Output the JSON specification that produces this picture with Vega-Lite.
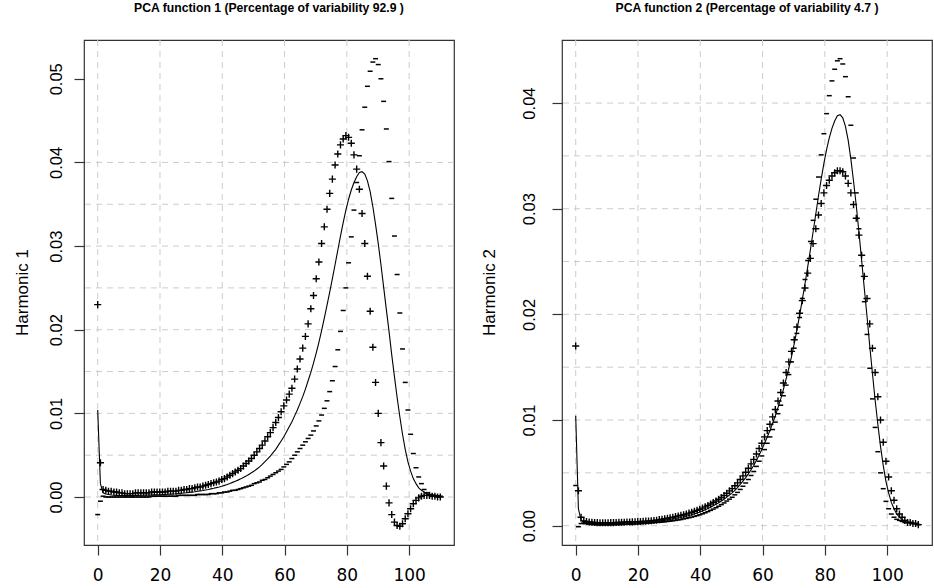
{
  "$schema": "https://vega.github.io/schema/vega-lite/v6.json",
  "background": "white",
  "padding": {"left": 12, "top": 1, "right": 0, "bottom": 0},
  "config": {
    "view": {"stroke": "#333333", "strokeWidth": 1.2},
    "axis": {"domain": false, "grid": false, "tickColor": "#333333", "tickWidth": 1.2, "tickSize": 10, "labelColor": "black", "titleColor": "black"},
    "axisX": {"labelFont": "DejaVu Sans", "labelFontSize": 17, "labelPadding": 12, "format": "d"},
    "axisY": {"labelFont": "Liberation Sans", "labelFontSize": 16.5, "labelAngle": -90, "labelAlign": "center", "labelBaseline": "alphabetic", "labelPadding": 13, "format": ".2f", "titleFont": "Liberation Sans", "titleFontSize": 17, "titleFontWeight": "normal", "titleAngle": -90, "titleAlign": "center", "titleBaseline": "middle", "titleY": 252}
  },
  "datasets": {
    "curves": [
      {"x":0,"m":0.0104,"p1":0.023,"n1":-0.0021,"p2":0.017,"n2":0.0038},
      {"x":0.87,"m":0.0016,"p1":0.0041,"n1":-0.0005,"p2":0.0033,"n2":-0.0001},
      {"x":1.73,"m":0.0005,"p1":0.0009,"n1":0.0001,"p2":0.0008,"n2":0.0002},
      {"x":2.6,"m":0.00035,"p1":0.0008,"n1":0,"p2":0.00045,"n2":0.00025},
      {"x":3.46,"m":0.0003,"p1":0.0007,"n1":0,"p2":0.0004,"n2":0.0002},
      {"x":4.33,"m":0.00025,"p1":0.0007,"n1":0,"p2":0.00035,"n2":0.00015},
      {"x":5.2,"m":0.00022,"p1":0.0006,"n1":0,"p2":0.00032,"n2":0.00012},
      {"x":6.06,"m":0.0002,"p1":0.0006,"n1":0,"p2":0.0003,"n2":0.0001},
      {"x":6.93,"m":0.00019,"p1":0.0005,"n1":0,"p2":0.00029,"n2":0.00009},
      {"x":7.8,"m":0.00018,"p1":0.0005,"n1":0,"p2":0.00028,"n2":0.00008},
      {"x":8.66,"m":0.00018,"p1":0.0004,"n1":0,"p2":0.00028,"n2":0.00008},
      {"x":9.53,"m":0.00018,"p1":0.0004,"n1":0,"p2":0.00028,"n2":0.00008},
      {"x":10.39,"m":0.00018,"p1":0.0004,"n1":0,"p2":0.00028,"n2":0.00008},
      {"x":11.26,"m":0.00019,"p1":0.0004,"n1":0,"p2":0.00029,"n2":0.00009},
      {"x":12.13,"m":0.00019,"p1":0.0005,"n1":0,"p2":0.00029,"n2":0.00009},
      {"x":12.99,"m":0.0002,"p1":0.0005,"n1":0,"p2":0.0003,"n2":0.0001},
      {"x":13.86,"m":0.00021,"p1":0.0005,"n1":0,"p2":0.00031,"n2":0.00011},
      {"x":14.72,"m":0.00022,"p1":0.0005,"n1":0,"p2":0.00032,"n2":0.00012},
      {"x":15.59,"m":0.00023,"p1":0.0005,"n1":0,"p2":0.00033,"n2":0.00013},
      {"x":16.46,"m":0.00024,"p1":0.0005,"n1":0,"p2":0.00034,"n2":0.00014},
      {"x":17.32,"m":0.00025,"p1":0.0006,"n1":0.0001,"p2":0.00035,"n2":0.00015},
      {"x":18.19,"m":0.00026,"p1":0.0006,"n1":0.0001,"p2":0.00036,"n2":0.00016},
      {"x":19.06,"m":0.00027,"p1":0.0006,"n1":0.0001,"p2":0.00037,"n2":0.00017},
      {"x":19.92,"m":0.00028,"p1":0.0006,"n1":0.0001,"p2":0.00038,"n2":0.00018},
      {"x":20.79,"m":0.0003,"p1":0.0006,"n1":0.0001,"p2":0.0004,"n2":0.0002},
      {"x":21.65,"m":0.00031,"p1":0.0006,"n1":0.0001,"p2":0.00041,"n2":0.00021},
      {"x":22.52,"m":0.00033,"p1":0.0007,"n1":0.0001,"p2":0.00043,"n2":0.00023},
      {"x":23.39,"m":0.00035,"p1":0.0007,"n1":0.0001,"p2":0.00045,"n2":0.00025},
      {"x":24.25,"m":0.00037,"p1":0.0007,"n1":0.0001,"p2":0.00047,"n2":0.00027},
      {"x":25.12,"m":0.00039,"p1":0.0007,"n1":0.0001,"p2":0.00049,"n2":0.00029},
      {"x":25.98,"m":0.00042,"p1":0.0008,"n1":0.0002,"p2":0.00052,"n2":0.00032},
      {"x":26.85,"m":0.00045,"p1":0.0008,"n1":0.0002,"p2":0.00057,"n2":0.00033},
      {"x":27.72,"m":0.00048,"p1":0.0009,"n1":0.0002,"p2":0.00061,"n2":0.00035},
      {"x":28.58,"m":0.00051,"p1":0.0009,"n1":0.0002,"p2":0.00065,"n2":0.00037},
      {"x":29.45,"m":0.00055,"p1":0.001,"n1":0.0002,"p2":0.0007,"n2":0.0004},
      {"x":30.31,"m":0.00059,"p1":0.001,"n1":0.0002,"p2":0.00075,"n2":0.00043},
      {"x":31.18,"m":0.00063,"p1":0.0011,"n1":0.0002,"p2":0.0008,"n2":0.00046},
      {"x":32.05,"m":0.00068,"p1":0.0012,"n1":0.0003,"p2":0.00086,"n2":0.0005},
      {"x":32.91,"m":0.00073,"p1":0.0012,"n1":0.0003,"p2":0.00092,"n2":0.00054},
      {"x":33.78,"m":0.00078,"p1":0.0013,"n1":0.0003,"p2":0.00098,"n2":0.00058},
      {"x":34.65,"m":0.00084,"p1":0.0014,"n1":0.0003,"p2":0.00104,"n2":0.00064},
      {"x":35.51,"m":0.0009,"p1":0.0015,"n1":0.0003,"p2":0.00111,"n2":0.00069},
      {"x":36.38,"m":0.00097,"p1":0.0016,"n1":0.0004,"p2":0.00119,"n2":0.00075},
      {"x":37.24,"m":0.00104,"p1":0.0017,"n1":0.0004,"p2":0.00127,"n2":0.00081},
      {"x":38.11,"m":0.00112,"p1":0.0018,"n1":0.0004,"p2":0.00136,"n2":0.00088},
      {"x":38.98,"m":0.0012,"p1":0.0019,"n1":0.0005,"p2":0.00145,"n2":0.00095},
      {"x":39.84,"m":0.00129,"p1":0.0021,"n1":0.0005,"p2":0.00155,"n2":0.00103},
      {"x":40.71,"m":0.00139,"p1":0.0022,"n1":0.0006,"p2":0.00166,"n2":0.00112},
      {"x":41.57,"m":0.0015,"p1":0.0024,"n1":0.0006,"p2":0.00178,"n2":0.00122},
      {"x":42.44,"m":0.00162,"p1":0.0026,"n1":0.0007,"p2":0.00191,"n2":0.00133},
      {"x":43.31,"m":0.00175,"p1":0.0028,"n1":0.0008,"p2":0.00205,"n2":0.00145},
      {"x":44.17,"m":0.00188,"p1":0.003,"n1":0.0008,"p2":0.00219,"n2":0.00157},
      {"x":45.04,"m":0.00202,"p1":0.0032,"n1":0.0009,"p2":0.00234,"n2":0.0017},
      {"x":45.91,"m":0.00217,"p1":0.0034,"n1":0.001,"p2":0.0025,"n2":0.00184},
      {"x":46.77,"m":0.00233,"p1":0.0037,"n1":0.0011,"p2":0.00267,"n2":0.00199},
      {"x":47.64,"m":0.0025,"p1":0.004,"n1":0.0012,"p2":0.00285,"n2":0.00215},
      {"x":48.5,"m":0.0027,"p1":0.0043,"n1":0.0013,"p2":0.00307,"n2":0.00233},
      {"x":49.37,"m":0.0029,"p1":0.0046,"n1":0.0014,"p2":0.00329,"n2":0.00251},
      {"x":50.24,"m":0.0031,"p1":0.005,"n1":0.0016,"p2":0.00351,"n2":0.00269},
      {"x":51.1,"m":0.00335,"p1":0.0054,"n1":0.0017,"p2":0.00378,"n2":0.00292},
      {"x":51.97,"m":0.0036,"p1":0.0058,"n1":0.0018,"p2":0.00405,"n2":0.00315},
      {"x":52.83,"m":0.0039,"p1":0.0062,"n1":0.002,"p2":0.00437,"n2":0.00343},
      {"x":53.7,"m":0.00422,"p1":0.0067,"n1":0.0021,"p2":0.00471,"n2":0.00373},
      {"x":54.57,"m":0.00455,"p1":0.0072,"n1":0.0023,"p2":0.00506,"n2":0.00404},
      {"x":55.43,"m":0.0049,"p1":0.0077,"n1":0.0025,"p2":0.00543,"n2":0.00437},
      {"x":56.3,"m":0.0053,"p1":0.0083,"n1":0.0027,"p2":0.00585,"n2":0.00475},
      {"x":57.17,"m":0.0057,"p1":0.0089,"n1":0.0029,"p2":0.00627,"n2":0.00513},
      {"x":58.03,"m":0.0062,"p1":0.0095,"n1":0.0031,"p2":0.00679,"n2":0.00561},
      {"x":58.9,"m":0.0067,"p1":0.0102,"n1":0.0033,"p2":0.0073,"n2":0.0061},
      {"x":59.76,"m":0.0072,"p1":0.0109,"n1":0.0036,"p2":0.0078,"n2":0.0066},
      {"x":60.63,"m":0.0078,"p1":0.0116,"n1":0.0039,"p2":0.0084,"n2":0.0072},
      {"x":61.5,"m":0.0084,"p1":0.0123,"n1":0.0042,"p2":0.009,"n2":0.0078},
      {"x":62.36,"m":0.009,"p1":0.013,"n1":0.0046,"p2":0.0096,"n2":0.0084},
      {"x":63.23,"m":0.0097,"p1":0.0141,"n1":0.005,"p2":0.0103,"n2":0.0091},
      {"x":64.09,"m":0.0104,"p1":0.0153,"n1":0.0054,"p2":0.011,"n2":0.0098},
      {"x":64.96,"m":0.0112,"p1":0.0165,"n1":0.0058,"p2":0.0118,"n2":0.0106},
      {"x":65.83,"m":0.012,"p1":0.0178,"n1":0.0062,"p2":0.0126,"n2":0.0114},
      {"x":66.69,"m":0.0129,"p1":0.0192,"n1":0.0066,"p2":0.0135,"n2":0.0123},
      {"x":67.56,"m":0.0139,"p1":0.0207,"n1":0.007,"p2":0.0145,"n2":0.0133},
      {"x":68.43,"m":0.0149,"p1":0.0225,"n1":0.0074,"p2":0.0155,"n2":0.0143},
      {"x":69.29,"m":0.016,"p1":0.0241,"n1":0.0079,"p2":0.0165,"n2":0.0155},
      {"x":70.16,"m":0.0172,"p1":0.0261,"n1":0.0085,"p2":0.0176,"n2":0.0168},
      {"x":71.02,"m":0.0185,"p1":0.0281,"n1":0.0091,"p2":0.0188,"n2":0.0182},
      {"x":71.89,"m":0.0199,"p1":0.0303,"n1":0.0098,"p2":0.0201,"n2":0.0197},
      {"x":72.76,"m":0.0214,"p1":0.0323,"n1":0.0106,"p2":0.0213,"n2":0.0215},
      {"x":73.62,"m":0.0229,"p1":0.0344,"n1":0.0115,"p2":0.0225,"n2":0.0233},
      {"x":74.49,"m":0.0245,"p1":0.0363,"n1":0.0126,"p2":0.0239,"n2":0.0251},
      {"x":75.35,"m":0.0261,"p1":0.038,"n1":0.0139,"p2":0.0253,"n2":0.0269},
      {"x":76.22,"m":0.0278,"p1":0.0397,"n1":0.0156,"p2":0.0267,"n2":0.0289},
      {"x":77.09,"m":0.0295,"p1":0.041,"n1":0.0176,"p2":0.0281,"n2":0.0309},
      {"x":77.95,"m":0.0312,"p1":0.0421,"n1":0.0198,"p2":0.0294,"n2":0.033},
      {"x":78.82,"m":0.0328,"p1":0.0428,"n1":0.0223,"p2":0.0305,"n2":0.0351},
      {"x":79.69,"m":0.0343,"p1":0.0432,"n1":0.025,"p2":0.0315,"n2":0.0371},
      {"x":80.55,"m":0.0356,"p1":0.043,"n1":0.028,"p2":0.0322,"n2":0.039},
      {"x":81.42,"m":0.0367,"p1":0.0423,"n1":0.0311,"p2":0.0327,"n2":0.0407},
      {"x":82.28,"m":0.0376,"p1":0.0409,"n1":0.0343,"p2":0.0331,"n2":0.0421},
      {"x":83.15,"m":0.0383,"p1":0.0392,"n1":0.0376,"p2":0.0334,"n2":0.0432},
      {"x":84.02,"m":0.0388,"p1":0.0368,"n1":0.0408,"p2":0.0336,"n2":0.044},
      {"x":84.88,"m":0.0389,"p1":0.0339,"n1":0.0439,"p2":0.0336,"n2":0.0442},
      {"x":85.75,"m":0.0386,"p1":0.0303,"n1":0.0466,"p2":0.0335,"n2":0.0437},
      {"x":86.61,"m":0.0378,"p1":0.0264,"n1":0.0491,"p2":0.0331,"n2":0.0425},
      {"x":87.48,"m":0.0365,"p1":0.0222,"n1":0.0509,"p2":0.0324,"n2":0.0406},
      {"x":88.35,"m":0.0347,"p1":0.0179,"n1":0.052,"p2":0.0315,"n2":0.0379},
      {"x":89.21,"m":0.0326,"p1":0.0137,"n1":0.0524,"p2":0.0304,"n2":0.0348},
      {"x":90.08,"m":0.0303,"p1":0.01,"n1":0.0517,"p2":0.0291,"n2":0.0315},
      {"x":90.94,"m":0.0278,"p1":0.0065,"n1":0.05,"p2":0.0275,"n2":0.0281},
      {"x":91.81,"m":0.0251,"p1":0.0037,"n1":0.0473,"p2":0.0256,"n2":0.0246},
      {"x":92.68,"m":0.0224,"p1":0.0013,"n1":0.044,"p2":0.0236,"n2":0.0212},
      {"x":93.54,"m":0.0198,"p1":-0.0007,"n1":0.0401,"p2":0.0215,"n2":0.0181},
      {"x":94.41,"m":0.017,"p1":-0.0021,"n1":0.0357,"p2":0.0191,"n2":0.0149},
      {"x":95.28,"m":0.0144,"p1":-0.003,"n1":0.0312,"p2":0.0168,"n2":0.012},
      {"x":96.14,"m":0.0119,"p1":-0.0034,"n1":0.0266,"p2":0.0145,"n2":0.0093},
      {"x":97.01,"m":0.0096,"p1":-0.0035,"n1":0.022,"p2":0.0122,"n2":0.007},
      {"x":97.87,"m":0.0075,"p1":-0.0032,"n1":0.0177,"p2":0.01,"n2":0.005},
      {"x":98.74,"m":0.0057,"p1":-0.0026,"n1":0.0137,"p2":0.0079,"n2":0.0035},
      {"x":99.61,"m":0.0042,"p1":-0.002,"n1":0.0104,"p2":0.0061,"n2":0.0023},
      {"x":100.47,"m":0.0031,"p1":-0.0014,"n1":0.0075,"p2":0.0046,"n2":0.0016},
      {"x":101.34,"m":0.0022,"p1":-0.0008,"n1":0.0052,"p2":0.0033,"n2":0.0011},
      {"x":102.2,"m":0.0016,"p1":-0.0004,"n1":0.0035,"p2":0.0024,"n2":0.0008},
      {"x":103.07,"m":0.0011,"p1":-0.0001,"n1":0.0024,"p2":0.0016,"n2":0.0006},
      {"x":103.94,"m":0.0008,"p1":0.0001,"n1":0.0016,"p2":0.0011,"n2":0.0005},
      {"x":104.8,"m":0.0006,"p1":0.0002,"n1":0.0009,"p2":0.0008,"n2":0.0004},
      {"x":105.67,"m":0.0004,"p1":0.0002,"n1":0.0005,"p2":0.0005,"n2":0.0003},
      {"x":106.54,"m":0.0003,"p1":0.0002,"n1":0.0003,"p2":0.0003,"n2":0.0003},
      {"x":107.4,"m":0.0003,"p1":0.0001,"n1":0.0002,"p2":0.0003,"n2":0.0003},
      {"x":108.27,"m":0.0002,"p1":0.0001,"n1":0.0001,"p2":0.0002,"n2":0.0002},
      {"x":109.13,"m":0.0002,"p1":0,"n1":0.0001,"p2":0.0002,"n2":0.0002},
      {"x":110,"m":0.0001,"p1":0,"n1":0.0001,"p2":0.0001,"n2":0.0001}
    ],
    "hgrid": [{"g":0},{"g":0.005},{"g":0.01},{"g":0.015},{"g":0.02},{"g":0.025},{"g":0.03},{"g":0.035},{"g":0.04}],
    "vgrid": [{"v":0},{"v":20},{"v":40},{"v":60},{"v":80},{"v":100}]
  },
  "spacing": 108,
  "bounds": "flush",
  "hconcat": [
    {
      "width": 370,
      "height": 505,
      "title": {"text": "PCA function 1 (Percentage of variability 92.9 )", "font": "Liberation Sans", "fontSize": 12.2, "fontWeight": "bold", "color": "black", "anchor": "middle", "frame": "group", "baseline": "alphabetic", "offset": 15},
      "layer": [
        {
          "data": {"name": "vgrid"},
          "mark": {"type": "rule", "color": "#cccccc", "strokeDash": [6, 5], "strokeWidth": 1},
          "encoding": {"x": {"field": "v", "type": "quantitative", "title": null, "scale": {"domain": [-4.4, 114.4], "nice": false, "zero": false}, "axis": {"values": [0, 20, 40, 60, 80, 100]}}}
        },
        {
          "data": {"name": "hgrid"},
          "mark": {"type": "rule", "color": "#cccccc", "strokeDash": [6, 5], "strokeWidth": 1},
          "encoding": {"y": {"field": "g", "type": "quantitative", "title": "Harmonic 1", "scale": {"domain": [-0.005736, 0.054636], "nice": false, "zero": false}, "axis": {"values": [0, 0.01, 0.02, 0.03, 0.04, 0.05], "titleX": -62}}}
        },
        {
          "data": {"name": "curves"},
          "mark": {"type": "line", "color": "black", "strokeWidth": 1.1},
          "encoding": {
            "x": {"field": "x", "type": "quantitative", "title": null, "scale": {"domain": [-4.4, 114.4], "nice": false, "zero": false}, "axis": {"values": [0, 20, 40, 60, 80, 100]}},
            "y": {"field": "m", "type": "quantitative", "title": "Harmonic 1", "scale": {"domain": [-0.005736, 0.054636], "nice": false, "zero": false}, "axis": {"values": [0, 0.01, 0.02, 0.03, 0.04, 0.05], "titleX": -62}}
          }
        },
        {
          "data": {"name": "curves"},
          "mark": {"type": "point", "shape": "M-1,0H1M0,-1V1", "size": 50, "filled": false, "stroke": "black", "strokeWidth": 1.4, "opacity": 1},
          "encoding": {
            "x": {"field": "x", "type": "quantitative", "title": null, "scale": {"domain": [-4.4, 114.4], "nice": false, "zero": false}, "axis": {"values": [0, 20, 40, 60, 80, 100]}},
            "y": {"field": "p1", "type": "quantitative", "title": "Harmonic 1", "scale": {"domain": [-0.005736, 0.054636], "nice": false, "zero": false}, "axis": {"values": [0, 0.01, 0.02, 0.03, 0.04, 0.05], "titleX": -62}}
          }
        },
        {
          "data": {"name": "curves"},
          "mark": {"type": "point", "shape": "M-0.7,0H0.7", "size": 50, "filled": false, "stroke": "black", "strokeWidth": 1.5, "opacity": 1},
          "encoding": {
            "x": {"field": "x", "type": "quantitative", "title": null, "scale": {"domain": [-4.4, 114.4], "nice": false, "zero": false}, "axis": {"values": [0, 20, 40, 60, 80, 100]}},
            "y": {"field": "n1", "type": "quantitative", "title": "Harmonic 1", "scale": {"domain": [-0.005736, 0.054636], "nice": false, "zero": false}, "axis": {"values": [0, 0.01, 0.02, 0.03, 0.04, 0.05], "titleX": -62}}
          }
        }
      ]
    },
    {
      "width": 370,
      "height": 505,
      "title": {"text": "PCA function 2 (Percentage of variability 4.7 )", "font": "Liberation Sans", "fontSize": 12.2, "fontWeight": "bold", "color": "black", "anchor": "middle", "frame": "group", "baseline": "alphabetic", "offset": 15},
      "layer": [
        {
          "data": {"name": "vgrid"},
          "mark": {"type": "rule", "color": "#cccccc", "strokeDash": [6, 5], "strokeWidth": 1},
          "encoding": {"x": {"field": "v", "type": "quantitative", "title": null, "scale": {"domain": [-4.4, 114.4], "nice": false, "zero": false}, "axis": {"values": [0, 20, 40, 60, 80, 100]}}}
        },
        {
          "data": {"name": "hgrid"},
          "mark": {"type": "rule", "color": "#cccccc", "strokeDash": [6, 5], "strokeWidth": 1},
          "encoding": {"y": {"field": "g", "type": "quantitative", "title": "Harmonic 2", "scale": {"domain": [-0.00183, 0.04597], "nice": false, "zero": false}, "axis": {"values": [0, 0.01, 0.02, 0.03, 0.04], "titleX": -73, "labelPadding": 18}}}
        },
        {
          "data": {"name": "curves"},
          "mark": {"type": "line", "color": "black", "strokeWidth": 1.1},
          "encoding": {
            "x": {"field": "x", "type": "quantitative", "title": null, "scale": {"domain": [-4.4, 114.4], "nice": false, "zero": false}, "axis": {"values": [0, 20, 40, 60, 80, 100]}},
            "y": {"field": "m", "type": "quantitative", "title": "Harmonic 2", "scale": {"domain": [-0.00183, 0.04597], "nice": false, "zero": false}, "axis": {"values": [0, 0.01, 0.02, 0.03, 0.04], "titleX": -73, "labelPadding": 18}}
          }
        },
        {
          "data": {"name": "curves"},
          "mark": {"type": "point", "shape": "M-1,0H1M0,-1V1", "size": 50, "filled": false, "stroke": "black", "strokeWidth": 1.4, "opacity": 1},
          "encoding": {
            "x": {"field": "x", "type": "quantitative", "title": null, "scale": {"domain": [-4.4, 114.4], "nice": false, "zero": false}, "axis": {"values": [0, 20, 40, 60, 80, 100]}},
            "y": {"field": "p2", "type": "quantitative", "title": "Harmonic 2", "scale": {"domain": [-0.00183, 0.04597], "nice": false, "zero": false}, "axis": {"values": [0, 0.01, 0.02, 0.03, 0.04], "titleX": -73, "labelPadding": 18}}
          }
        },
        {
          "data": {"name": "curves"},
          "mark": {"type": "point", "shape": "M-0.7,0H0.7", "size": 50, "filled": false, "stroke": "black", "strokeWidth": 1.5, "opacity": 1},
          "encoding": {
            "x": {"field": "x", "type": "quantitative", "title": null, "scale": {"domain": [-4.4, 114.4], "nice": false, "zero": false}, "axis": {"values": [0, 20, 40, 60, 80, 100]}},
            "y": {"field": "n2", "type": "quantitative", "title": "Harmonic 2", "scale": {"domain": [-0.00183, 0.04597], "nice": false, "zero": false}, "axis": {"values": [0, 0.01, 0.02, 0.03, 0.04], "titleX": -73, "labelPadding": 18}}
          }
        }
      ]
    }
  ]
}
